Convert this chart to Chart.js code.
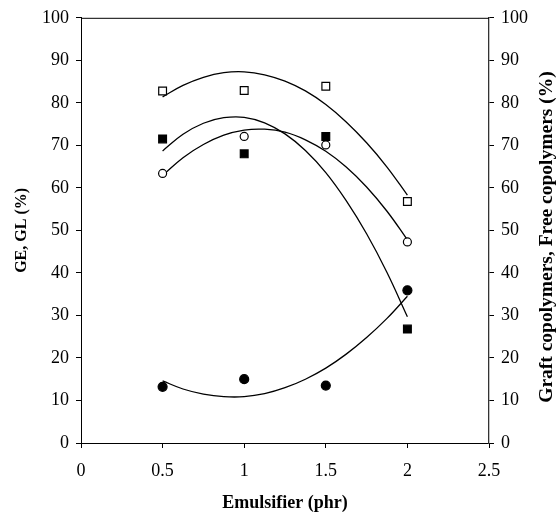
<!DOCTYPE html>
<html>
<head>
<meta charset="utf-8">
<script src="https://cdn.jsdelivr.net/npm/chart.js@4"></script>
<style>
  html, body { margin: 0; padding: 0; background: #fff; }
  #wrap { width: 556px; height: 512px; position: relative; }
</style>
</head>
<body>
<div id="wrap"><canvas id="c" width="556" height="512"></canvas></div>
<script>
// ---- data ----
const xValues = [0.5, 1, 1.5, 2];
const openSquares   = [82.8, 82.9, 83.9, 56.8];
const filledSquares = [71.5, 68.0, 72.1, 26.8];
const openCircles   = [63.4, 72.1, 70.1, 47.3];
const filledCircles = [13.2, 15.0, 13.5, 35.9];

// trend curves
const curveX = [0.5, 0.625, 0.75, 0.875, 1, 1.125, 1.25, 1.375, 1.5, 1.625, 1.75, 1.875, 2];
const openSquaresCurve   = [81.4, 84.1, 86.0, 87.1, 87.3, 86.6, 85.1, 82.8, 79.6, 75.5, 70.6, 64.9, 58.3];
const filledSquaresCurve = [68.7, 72.6, 75.2, 76.5, 76.6, 75.3, 72.7, 68.8, 63.6, 57.0, 49.2, 40.1, 29.7];
const openCirclesCurve   = [62.9, 67.1, 70.2, 72.4, 73.6, 73.8, 73.1, 71.3, 68.6, 64.9, 60.2, 54.5, 47.8];
const filledCirclesCurve = [14.6, 12.7, 11.5, 10.9, 10.9, 11.6, 13.0, 15.0, 17.6, 20.9, 24.8, 29.3, 34.5];

const xTickLabels = ['0', '0.5', '1', '1.5', '2', '2.5'];
const yTickLabels = ['0','10','20','30','40','50','60','70','80','90','100'];

const xTitle = 'Emulsifier (phr)';
const yLeftTitle = 'GE, GL (%)';
const yRightTitle = 'Graft copolymers, Free copolymers (%)';

const pts = (xs, ys) => xs.map((x, i) => ({ x: x, y: ys[i] }));

const serif = "'Liberation Serif', 'Times New Roman', serif";

function markerSet(ys, style, filled, r) {
  return {
    data: pts(xValues, ys),
    showLine: false,
    pointStyle: style,
    pointRadius: r,
    pointHoverRadius: r,
    pointBackgroundColor: filled ? '#000' : '#fff',
    pointBorderColor: '#000',
    pointBorderWidth: 1.2,
    order: 0
  };
}
function curveSet(ys) {
  return {
    data: pts(curveX, ys),
    showLine: true,
    borderColor: '#000',
    borderWidth: 1.3,
    pointRadius: 0,
    pointHoverRadius: 0,
    tension: 0.4,
    fill: false,
    order: 1
  };
}

const framePlugin = {
  id: 'frame',
  afterDraw(chart) {
    const ctx = chart.ctx, a = chart.chartArea;
    ctx.save();
    ctx.strokeStyle = '#000';
    ctx.lineWidth = 1;
    ctx.beginPath();
    ctx.moveTo(a.left, a.top + 0.5);
    ctx.lineTo(a.right, a.top + 0.5);
    ctx.stroke();
    // right-axis title, reading bottom to top as in the reference
    ctx.translate(547, 237);
    ctx.rotate(-Math.PI / 2);
    ctx.font = "bold 19.5px " + serif;
    ctx.fillStyle = '#000';
    ctx.textAlign = 'center';
    ctx.textBaseline = 'middle';
    ctx.fillText(yRightTitle, 0, 0);
    ctx.restore();
  }
};

new Chart(document.getElementById('c'), {
  type: 'scatter',
  data: {
    datasets: [
      markerSet(openSquares, 'rect', false, 5.5),
      markerSet(filledSquares, 'rect', true, 5.5),
      markerSet(openCircles, 'circle', false, 4),
      markerSet(filledCircles, 'circle', true, 4.5),
      curveSet(openSquaresCurve),
      curveSet(filledSquaresCurve),
      curveSet(openCirclesCurve),
      curveSet(filledCirclesCurve)
    ]
  },
  options: {
    responsive: false,
    animation: false,
    layout: { padding: { top: 17, left: 0, right: 0, bottom: 0 } },
    plugins: { legend: { display: false }, tooltip: { enabled: false } },
    scales: {
      x: {
        type: 'linear', min: 0, max: 2.5,
        afterFit(s) { s.height = 69; },
        ticks: {
          stepSize: 0.5, color: '#000', padding: 12,
          font: { family: serif, size: 18 },
          callback: (v, i) => xTickLabels[i]
        },
        grid: { drawOnChartArea: false, tickLength: 5, color: '#000' },
        border: { color: '#000', width: 1 },
        title: { display: true, text: xTitle, color: '#000', padding: { top: 0, bottom: 0 },
                 font: { family: serif, size: 18, weight: 'bold', lineHeight: 1.0 } }
      },
      y: {
        type: 'linear', position: 'left', min: 0, max: 100,
        afterFit(s) { s.width = 81; },
        ticks: {
          stepSize: 10, color: '#000', padding: 7,
          font: { family: serif, size: 18 },
          callback: (v, i) => yTickLabels[i]
        },
        grid: { drawOnChartArea: false, tickLength: 5, color: '#000' },
        border: { color: '#000', width: 1 },
        title: { display: true, text: yLeftTitle, color: '#000', padding: { top: 12, bottom: 0 },
                 font: { family: serif, size: 16, weight: 'bold' } }
      },
      y2: {
        type: 'linear', position: 'right', min: 0, max: 100,
        afterFit(s) { s.width = 67; },
        ticks: {
          stepSize: 10, color: '#000', padding: 7,
          font: { family: serif, size: 18 },
          callback: (v, i) => yTickLabels[i]
        },
        grid: { drawOnChartArea: false, tickLength: 5, color: '#000' },
        border: { color: '#333', width: 1.3 }
      }
    }
  },
  plugins: [framePlugin]
});
</script>
</body>
</html>
